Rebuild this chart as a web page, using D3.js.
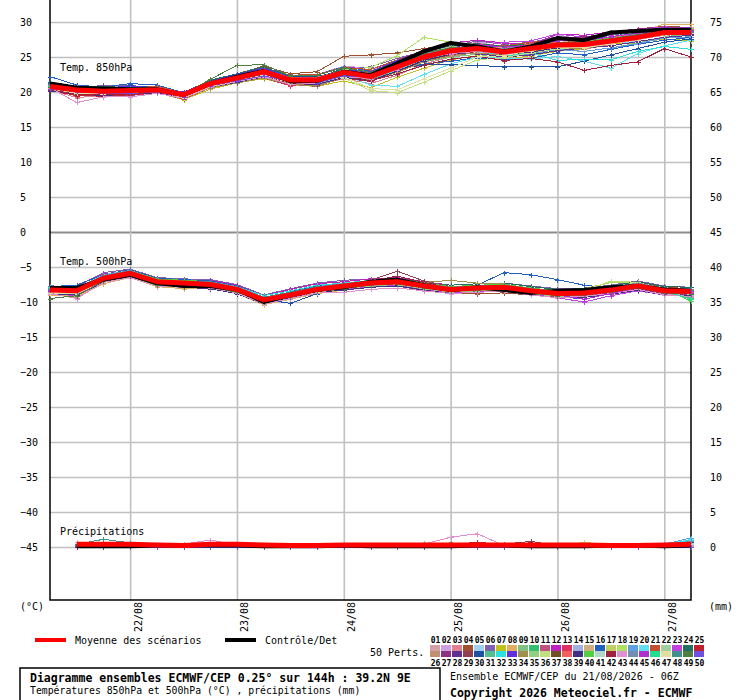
<!DOCTYPE html>
<html>
<head>
<meta charset="utf-8">
<script src="https://cdn.jsdelivr.net/npm/d3@7"></script>
<style>
  body { margin: 0; background: #fff; }
  svg text { font-family: "DejaVu Sans Mono", monospace; fill: #000; }
</style>
</head>
<body>
<svg id="chart" width="740" height="700"></svg>
<script>
// run start 21/08/2026 06Z, one value every 6 h
const hours = [0,6,12,18,24,30,36,42,48,54,60,66,72,78,84,90,96,102,108,114,120,126,132,138,144];
const dayTicks = ["2026-08-22","2026-08-23","2026-08-24","2026-08-25","2026-08-26","2026-08-27"];
const leftTicks = [30,25,20,15,10,5,0,-5,-10,-15,-20,-25,-30,-35,-40,-45];
const rightTicks = [75,70,65,60,55,50,45,40,35,30,25,20,15,10,5,0];

const memberIds = ["01","02","03","04","05","06","07","08","09","10","11","12","13","14","15","16","17","18","19","20","21","22","23","24","25",
  "26","27","28","29","30","31","32","33","34","35","36","37","38","39","40","41","42","43","44","45","46","47","48","49","50"];
const memberColors = ["#d4a0a8","#d0a0e0","#e08090","#a05030","#a0d0f0","#8060b0","#c0c020","#e0b060","#80c080","#30c070",
  "#c05080","#c020c0","#e03060","#a0b0e0","#d0b080","#2060c0","#c0d060","#b0e060","#60a0e0","#60e0f0",
  "#c05030","#a0d0a0","#c040e0","#207060","#c02030",
  "#c09070","#903080","#603090","#904050","#2050a0","#50c090","#30e0e0","#6030e0","#a09050","#90d080",
  "#c0e080","#705020","#f06060","#403080","#50d040","#b0d8c8","#a02040","#e090d0","#7090b0","#b030d0",
  "#20e090","#e0e0a0","#409090","#508040","#7050e0"];

const t850Mean = [20.8,20.3,20.1,20.2,20.3,19.6,21.2,22.0,22.9,21.7,21.7,22.8,22.2,23.6,25.0,25.9,26.2,25.7,26.2,26.7,26.8,27.3,27.8,28.5,28.5];
const t850Control = [21.2,20.6,20.5,20.4,20.4,19.6,21.2,22.2,23.0,21.5,21.6,22.9,22.4,24.1,25.8,27.0,26.5,25.8,26.5,27.7,27.4,28.5,28.7,28.9,28.9];
const t850Members = [
  [21.1,19.9,20.6,19.9,20.5,19.4,20.8,21.7,22.3,21.9,21.3,22.5,23.0,24.5,25.6,26.4,27.1,26.4,27.1,27.3,27.5,27.9,28.3,28.9,29.0],
  [20.6,20.5,20.9,20.6,20.1,19.8,21.7,22.6,23.2,22.2,22.5,23.7,23.4,23.4,24.4,25.4,27.0,27.1,26.5,28.2,27.4,27.8,28.5,28.9,28.7],
  [20.3,19.2,19.5,19.8,20.0,19.2,20.7,21.5,22.1,21.1,21.0,21.9,21.2,22.4,24.0,25.0,25.8,25.1,25.9,26.4,26.1,26.8,27.5,28.1,28.3],
  [20.9,20.5,20.4,20.6,20.8,19.8,21.6,22.6,23.7,22.6,22.9,25.1,25.3,25.6,26.2,26.8,26.4,26.1,27.0,27.3,27.8,28.3,29.0,29.4,29.2],
  [20.5,19.7,19.9,20.8,20.3,19.1,21.0,21.7,22.8,21.3,22.0,23.0,21.9,24.0,25.3,26.3,25.7,25.3,25.6,26.1,26.9,27.0,27.2,27.8,27.6],
  [21.4,20.4,21.0,20.9,20.7,19.9,21.7,22.4,23.1,22.3,21.8,23.2,23.6,24.8,25.8,26.5,27.3,26.8,27.1,27.9,27.4,28.1,28.7,29.2,28.9],
  [20.1,20.0,19.3,19.9,19.9,18.9,20.4,21.3,21.9,21.0,20.8,21.6,20.6,22.1,23.4,24.6,25.2,24.6,25.2,25.8,26.2,26.9,27.0,27.6,27.3],
  [20.8,20.1,20.2,20.1,20.6,19.6,21.4,22.1,23.3,22.0,21.4,22.4,22.2,24.0,25.5,26.1,26.4,25.2,26.0,27.1,27.3,27.9,28.5,29.7,29.7],
  [20.5,19.6,19.9,19.7,20.2,19.3,20.8,21.5,22.6,21.2,21.5,22.2,21.6,22.8,24.3,25.0,25.4,24.7,25.6,26.0,25.8,26.3,27.0,27.9,28.3],
  [21.2,20.6,20.5,20.2,20.6,19.7,21.4,22.3,23.2,22.1,22.0,23.3,22.9,24.3,25.6,26.8,26.7,26.5,26.8,27.0,27.5,28.2,28.8,29.0,28.9],
  [20.4,19.9,19.6,19.9,20.0,19.1,20.9,21.6,22.2,21.1,20.8,22.1,21.6,23.2,24.7,25.8,26.0,25.6,26.4,26.5,26.8,27.3,27.9,28.3,28.6],
  [21.0,20.4,20.7,20.7,20.5,19.6,21.6,22.4,23.5,22.3,22.4,23.6,23.2,24.5,26.0,27.0,27.4,27.0,26.7,28.3,28.1,28.6,29.0,29.3,29.1],
  [20.6,19.4,19.7,19.5,19.9,19.0,20.6,21.4,22.0,20.9,21.4,22.3,22.1,23.4,24.9,25.6,26.1,25.9,26.0,26.6,26.6,27.2,27.6,28.4,28.9],
  [21.3,20.6,20.3,20.5,20.7,19.9,21.6,22.4,23.0,21.9,22.1,22.7,22.5,23.7,25.1,25.8,26.5,25.5,26.3,26.8,26.5,27.0,27.7,28.2,28.1],
  [20.6,20.2,20.3,20.1,20.3,19.4,21.1,21.9,22.5,21.5,21.6,22.8,22.4,24.1,25.7,26.5,26.9,26.3,26.5,27.1,27.3,27.6,28.4,28.9,29.3],
  [22.2,21.0,20.7,21.2,21.0,19.9,21.7,22.6,23.5,22.4,22.5,23.6,23.0,23.3,24.0,24.4,24.9,24.6,24.8,25.6,25.3,26.1,26.8,27.4,27.8],
  [20.8,20.2,20.0,20.3,20.2,19.6,21.2,22.0,22.8,21.7,21.8,22.9,22.2,23.5,25.3,26.1,26.3,25.0,26.2,26.9,26.6,27.4,28.1,28.7,28.2],
  [21.1,20.5,20.6,20.5,20.6,19.8,21.4,22.3,23.3,22.0,21.8,23.2,23.5,25.2,27.8,27.1,26.6,25.9,26.9,27.3,27.6,28.3,28.7,29.0,28.6],
  [20.4,19.8,19.8,19.6,20.1,19.3,20.8,21.5,22.3,21.3,21.1,22.2,21.8,22.9,24.5,25.2,25.6,25.2,25.4,26.1,25.8,26.3,26.9,27.7,27.9],
  [20.5,19.9,19.7,20.0,20.2,19.3,21.0,21.7,22.4,21.2,21.4,22.4,21.0,20.8,22.5,24.0,25.0,24.8,24.7,25.1,24.4,23.4,25.5,26.6,27.4],
  [21.1,20.6,20.3,20.7,20.8,19.9,21.5,22.4,23.2,22.4,22.5,23.5,23.2,24.6,25.6,26.4,26.9,26.6,27.1,27.5,27.7,28.4,28.9,29.1,29.2],
  [20.7,20.3,20.1,20.0,20.3,19.5,21.0,21.9,22.7,21.6,21.7,22.6,22.3,23.6,25.0,25.9,26.0,25.3,25.9,26.6,27.0,27.6,28.2,28.6,28.3],
  [20.9,20.3,20.2,20.2,20.4,19.6,21.2,22.1,22.9,21.8,21.8,22.8,22.6,24.0,25.4,26.3,26.5,27.1,27.3,28.3,27.8,28.2,28.9,29.3,29.2],
  [21.3,20.4,20.8,20.6,20.5,19.7,21.7,22.6,23.6,22.2,22.0,23.4,22.8,24.3,25.8,26.6,26.9,26.5,26.9,27.4,27.1,27.8,28.4,28.8,28.9],
  [20.2,19.5,19.4,19.6,19.9,19.1,20.6,21.3,22.1,21.1,21.0,22.0,21.5,22.9,24.5,25.3,25.8,25.6,26.2,26.8,26.7,27.5,28.3,28.8,29.0],
  [20.7,20.1,19.9,20.3,20.2,19.4,21.1,22.0,22.8,21.7,21.8,22.7,22.1,23.4,24.9,25.7,26.1,25.6,26.0,26.5,26.9,27.2,27.7,28.4,28.7],
  [21.0,20.4,20.4,20.4,20.4,19.8,21.4,22.3,23.1,21.9,22.1,23.1,22.7,24.2,25.6,26.5,26.7,26.0,26.8,27.6,27.9,28.3,28.8,29.1,28.7],
  [20.5,19.9,19.8,19.8,20.1,19.3,20.8,21.6,22.4,21.4,21.3,22.3,21.9,23.2,24.7,25.5,25.5,25.0,25.3,25.9,26.3,26.6,27.2,27.8,28.1],
  [20.8,20.5,20.2,20.1,20.3,19.7,21.3,22.0,22.7,21.8,21.5,22.7,22.3,23.8,25.3,25.8,26.2,25.8,26.4,26.9,27.2,27.4,28.0,28.6,28.8],
  [21.4,20.8,20.5,20.9,20.6,19.8,21.6,22.5,23.2,22.2,22.2,23.1,22.5,23.2,23.9,23.9,23.8,23.6,23.6,23.6,24.4,25.3,26.2,27.1,27.6],
  [20.7,20.0,20.1,20.0,20.3,19.5,20.9,21.8,22.6,21.5,21.7,22.6,22.3,23.7,25.1,25.9,26.2,26.0,26.5,26.8,27.0,27.6,28.1,28.6,28.9],
  [20.3,19.8,19.5,19.8,19.9,19.2,20.7,21.4,22.2,21.2,21.2,22.3,21.9,23.1,24.6,25.4,25.9,25.1,25.6,24.5,24.7,24.6,25.8,26.5,26.1],
  [21.2,20.5,20.6,20.8,20.6,20.0,21.5,22.5,23.4,22.1,21.9,23.1,22.9,24.5,25.7,26.5,26.7,26.4,26.6,27.6,27.4,27.9,28.6,29.0,29.1],
  [20.4,19.7,19.6,19.7,19.9,19.1,20.6,21.3,22.0,21.1,20.9,22.1,21.8,22.8,24.3,25.2,25.6,25.2,25.8,26.3,26.2,26.9,27.6,28.3,28.5],
  [21.0,20.4,20.4,20.4,20.5,19.7,21.3,22.2,23.0,21.9,22.0,22.9,22.5,24.0,25.5,26.5,26.2,25.9,26.6,26.9,27.3,27.9,28.5,28.9,29.1],
  [20.8,20.1,20.0,20.2,20.2,19.6,21.0,21.9,22.6,21.7,21.7,22.0,20.2,19.9,21.4,23.0,24.6,24.9,25.6,26.2,26.4,27.0,27.6,28.3,28.4],
  [20.6,20.0,19.8,20.0,20.2,19.3,21.0,21.7,22.5,21.4,21.5,22.4,22.0,23.3,24.7,25.6,26.0,25.3,25.9,26.4,26.7,27.1,27.6,28.2,28.4],
  [21.1,20.7,20.5,20.5,20.7,19.9,21.5,22.2,23.1,22.1,22.1,23.1,22.7,24.1,25.4,26.3,26.6,26.2,26.9,27.1,27.2,27.8,28.3,28.8,29.0],
  [20.2,19.7,19.5,19.7,19.9,19.2,20.7,21.4,22.2,21.2,21.1,22.1,21.6,23.0,24.5,25.4,25.9,25.4,25.7,26.3,26.3,27.0,27.6,28.2,28.3],
  [20.9,20.4,20.3,20.4,20.4,19.5,21.3,22.0,22.8,21.9,21.9,22.7,22.5,23.9,25.3,26.2,26.6,26.1,26.4,27.0,27.2,27.7,28.2,28.6,28.7],
  [20.9,20.3,20.0,20.2,20.3,19.6,21.1,22.0,23.0,21.5,21.7,22.8,22.2,23.5,24.9,25.8,26.1,25.7,26.2,26.7,26.9,27.3,27.9,28.5,28.6],
  [20.3,19.7,19.6,19.7,20.0,19.3,20.7,21.5,22.3,21.2,21.3,22.3,21.6,22.6,23.8,24.7,25.1,24.5,24.8,24.3,23.1,23.8,24.3,26.2,25.0],
  [20.6,18.5,19.3,19.3,19.8,19.1,20.7,21.5,22.2,21.1,21.3,22.2,21.9,23.2,24.8,25.5,25.8,25.4,25.9,26.5,26.4,27.0,27.5,28.1,28.4],
  [21.0,20.5,20.4,20.3,20.5,19.8,21.4,22.2,23.1,21.8,22.0,23.1,22.6,24.1,25.5,26.3,26.4,26.2,26.7,27.0,27.1,27.6,28.3,28.7,28.8],
  [20.7,20.0,20.0,19.9,20.2,19.4,20.9,21.8,22.6,21.4,21.6,22.6,22.2,23.6,25.0,25.9,26.8,26.4,26.7,27.3,27.3,27.9,28.4,28.9,28.9],
  [20.9,20.4,20.2,20.3,20.5,19.7,21.3,22.1,23.0,21.8,21.8,22.8,22.4,23.7,25.2,26.1,26.2,25.9,26.3,26.8,26.8,27.4,28.0,28.6,28.7],
  [20.5,19.8,19.7,19.9,20.1,19.2,20.8,21.6,22.4,21.3,21.4,22.2,20.5,20.3,21.9,23.4,25.0,25.2,25.9,26.4,26.3,26.9,27.5,28.2,28.5],
  [21.1,20.5,20.5,20.6,20.6,19.8,21.5,22.3,23.1,22.0,22.0,23.0,22.5,24.0,25.4,26.0,26.4,26.0,26.5,26.9,27.0,27.6,28.1,28.5,28.6],
  [20.7,20.3,20.3,20.4,20.4,19.7,21.8,23.8,23.9,22.3,22.4,23.5,22.8,24.2,25.6,26.3,26.5,26.0,26.4,27.0,27.1,27.6,28.2,28.7,28.8],
  [20.4,20.1,19.8,19.8,20.0,19.3,20.9,21.6,22.3,21.5,21.3,22.3,22.1,23.6,25.0,25.7,26.4,25.8,26.3,27.0,26.8,27.5,28.0,28.6,28.7]
];

const t500Mean = [-8.3,-8.4,-6.6,-5.9,-7.1,-7.3,-7.5,-8.2,-9.7,-9.0,-8.2,-7.7,-7.3,-7.1,-7.7,-8.2,-8.0,-7.9,-8.4,-8.8,-8.7,-8.3,-7.7,-8.4,-8.5];
const t500Control = [-8.0,-8.0,-6.8,-6.1,-7.3,-7.7,-7.7,-8.2,-10.0,-9.0,-8.3,-7.9,-7.1,-6.8,-7.6,-8.3,-7.9,-8.3,-8.7,-8.4,-8.3,-7.9,-7.7,-8.2,-8.4];
const t500Members = [
  [-8.0,-8.1,-6.3,-5.6,-6.8,-7.0,-7.2,-7.8,-9.3,-8.6,-7.8,-7.4,-7.0,-6.8,-7.4,-7.8,-7.7,-7.6,-8.0,-8.4,-8.3,-7.9,-7.4,-8.0,-8.1],
  [-8.8,-8.9,-7.1,-6.3,-7.6,-7.8,-7.9,-8.7,-10.2,-9.5,-8.7,-8.2,-7.8,-7.6,-8.2,-8.7,-8.5,-8.4,-8.9,-9.3,-9.2,-8.8,-8.2,-8.9,-9.0],
  [-8.6,-9.4,-7.0,-6.1,-7.4,-7.6,-7.2,-8.1,-9.6,-8.9,-7.8,-7.4,-7.0,-7.4,-8.0,-8.5,-8.3,-8.2,-8.7,-9.1,-9.0,-8.6,-8.0,-8.7,-9.3],
  [-8.0,-8.1,-6.1,-5.5,-6.6,-6.8,-6.9,-7.7,-9.1,-8.4,-8.0,-7.7,-7.6,-7.7,-8.4,-8.8,-8.8,-8.7,-9.0,-9.3,-8.6,-8.1,-7.3,-7.8,-8.2],
  [-8.9,-9.0,-7.2,-6.3,-7.7,-7.9,-7.9,-8.4,-9.9,-9.3,-8.4,-7.9,-7.3,-7.0,-7.6,-8.1,-7.9,-7.8,-8.2,-8.6,-8.9,-8.5,-7.7,-8.6,-8.7],
  [-7.7,-7.8,-5.8,-5.3,-6.5,-6.7,-6.8,-7.5,-9.0,-8.1,-7.3,-6.9,-6.7,-6.6,-7.1,-7.6,-7.4,-7.3,-7.7,-8.1,-8.0,-7.6,-7.0,-7.7,-7.9],
  [-8.3,-8.6,-6.6,-5.9,-7.1,-7.3,-7.5,-8.2,-9.7,-9.0,-8.2,-7.5,-7.1,-6.9,-7.3,-8.0,-7.6,-7.5,-8.2,-8.5,-8.1,-7.2,-7.2,-8.2,-8.3],
  [-9.0,-9.2,-7.4,-6.5,-7.8,-8.1,-8.1,-8.8,-10.4,-9.6,-8.8,-8.3,-7.9,-7.7,-8.3,-8.8,-8.6,-8.5,-9.0,-9.4,-9.3,-8.9,-8.3,-9.0,-9.1],
  [-8.1,-8.2,-6.4,-5.7,-6.9,-7.1,-7.1,-8.0,-9.5,-8.8,-8.0,-7.7,-7.3,-7.1,-7.7,-8.2,-8.0,-7.9,-8.4,-8.6,-8.5,-8.1,-7.5,-8.2,-8.5],
  [-8.5,-8.6,-6.8,-6.1,-7.3,-7.5,-7.7,-8.4,-9.9,-9.2,-8.4,-7.9,-7.5,-7.3,-7.9,-8.4,-8.2,-8.1,-8.6,-9.0,-8.9,-8.5,-7.9,-8.4,-8.7],
  [-8.3,-8.4,-6.6,-5.9,-7.1,-7.3,-7.3,-8.2,-9.5,-8.8,-8.2,-7.7,-7.1,-6.9,-7.5,-8.0,-7.8,-7.7,-8.2,-8.9,-8.7,-8.3,-7.7,-8.4,-8.5],
  [-7.9,-7.6,-6.0,-5.5,-6.7,-6.9,-6.9,-7.6,-9.1,-8.2,-7.4,-7.1,-6.7,-6.5,-7.1,-7.6,-7.4,-7.3,-7.8,-8.2,-8.1,-7.7,-7.1,-7.8,-7.9],
  [-8.7,-8.8,-7.0,-6.1,-7.5,-7.7,-7.7,-8.4,-10.0,-9.3,-8.4,-8.1,-7.7,-7.5,-8.1,-8.6,-8.4,-8.3,-8.8,-9.2,-9.1,-8.7,-8.1,-8.8,-8.9],
  [-8.1,-8.0,-6.2,-5.7,-6.9,-7.1,-7.1,-7.8,-9.3,-8.6,-7.8,-7.5,-7.1,-6.9,-7.5,-8.0,-7.8,-7.7,-8.2,-8.6,-8.5,-8.1,-7.5,-8.2,-8.3],
  [-8.4,-8.4,-6.6,-5.9,-7.1,-7.3,-7.5,-8.2,-9.7,-9.0,-8.2,-7.7,-7.3,-7.1,-7.7,-8.2,-8.0,-7.9,-8.4,-8.8,-8.7,-8.3,-7.7,-8.4,-8.5],
  [-7.8,-7.6,-6.1,-5.4,-6.6,-6.8,-7.0,-7.7,-9.1,-8.4,-7.7,-7.3,-6.9,-6.9,-7.4,-8.0,-7.6,-5.8,-6.1,-6.8,-7.6,-8.0,-7.4,-8.1,-8.2],
  [-8.9,-9.0,-7.2,-6.3,-7.7,-7.9,-7.9,-8.6,-10.1,-9.4,-8.6,-8.1,-7.5,-7.3,-7.9,-8.4,-8.2,-8.1,-8.6,-9.0,-8.2,-7.2,-7.2,-8.2,-8.7],
  [-8.2,-8.2,-6.4,-5.7,-6.9,-7.1,-7.3,-8.0,-9.5,-8.8,-8.0,-7.5,-7.1,-6.9,-7.5,-8.0,-7.8,-7.7,-8.2,-8.6,-8.3,-7.1,-7.4,-8.1,-8.3],
  [-8.7,-8.8,-6.8,-6.1,-7.5,-7.7,-7.7,-8.4,-9.9,-9.2,-8.4,-7.9,-7.5,-7.3,-7.9,-8.4,-8.2,-8.2,-8.7,-9.1,-9.0,-8.6,-8.0,-8.7,-8.8],
  [-8.0,-8.1,-6.1,-5.5,-6.7,-6.9,-7.1,-7.8,-9.3,-8.6,-7.8,-7.3,-6.9,-6.7,-7.3,-7.8,-7.6,-7.5,-8.0,-8.4,-8.3,-7.9,-7.3,-8.0,-8.1],
  [-8.5,-8.6,-6.8,-6.1,-7.3,-7.5,-7.6,-8.4,-9.9,-9.0,-8.4,-7.9,-7.5,-7.3,-7.9,-8.4,-8.2,-8.1,-8.6,-8.8,-8.7,-8.3,-7.7,-8.4,-8.7],
  [-8.3,-8.4,-6.6,-5.9,-7.1,-7.3,-7.5,-8.2,-9.7,-9.0,-8.2,-7.7,-7.3,-7.1,-7.7,-8.2,-8.0,-7.9,-8.4,-8.8,-8.7,-8.3,-7.7,-8.4,-8.5],
  [-8.8,-9.1,-7.1,-6.4,-7.6,-7.8,-8.0,-8.6,-10.3,-9.5,-8.7,-8.2,-7.8,-7.6,-8.2,-8.7,-8.5,-8.4,-8.9,-9.4,-10.0,-9.1,-8.4,-9.0,-9.2],
  [-8.1,-8.0,-6.2,-5.6,-6.7,-6.9,-7.1,-7.8,-9.1,-8.4,-7.6,-7.3,-6.9,-6.7,-7.2,-7.6,-7.4,-7.3,-7.8,-8.2,-8.1,-7.7,-7.1,-7.8,-7.9],
  [-8.5,-8.6,-6.8,-5.9,-7.3,-7.5,-7.5,-8.4,-9.7,-9.0,-8.2,-7.9,-7.5,-7.1,-7.7,-8.2,-8.0,-7.9,-8.6,-8.8,-8.7,-8.3,-7.7,-8.4,-8.5],
  [-8.3,-8.2,-6.4,-5.7,-6.9,-7.1,-7.3,-8.0,-9.5,-8.8,-8.0,-7.5,-7.1,-6.9,-7.5,-8.0,-7.8,-7.7,-8.2,-8.6,-8.5,-8.1,-7.5,-8.2,-8.3],
  [-8.7,-8.8,-7.0,-6.1,-7.5,-7.7,-7.9,-8.4,-9.9,-9.2,-8.4,-8.1,-7.7,-7.5,-8.1,-8.6,-8.4,-8.3,-8.8,-9.2,-9.1,-8.7,-8.1,-8.8,-8.9],
  [-8.1,-8.2,-6.2,-5.5,-6.7,-6.9,-7.1,-7.8,-9.3,-8.6,-7.8,-7.5,-7.1,-6.9,-7.5,-7.8,-7.6,-7.5,-8.0,-8.4,-8.3,-7.9,-7.3,-8.0,-8.1],
  [-8.5,-8.6,-6.6,-5.9,-7.1,-7.3,-7.5,-8.2,-9.7,-9.0,-8.2,-7.7,-6.9,-5.6,-7.0,-7.8,-7.9,-7.8,-8.3,-8.7,-8.6,-8.2,-7.6,-8.3,-8.5],
  [-8.3,-8.4,-6.6,-5.9,-7.1,-7.3,-7.4,-8.2,-9.6,-10.2,-8.8,-8.0,-7.4,-7.2,-7.8,-8.4,-8.2,-8.1,-8.6,-9.0,-8.9,-8.5,-7.9,-8.6,-8.7],
  [-8.7,-8.8,-7.0,-6.1,-7.5,-7.7,-7.7,-8.6,-10.1,-9.2,-8.4,-7.9,-7.5,-7.3,-7.9,-8.4,-8.2,-8.1,-8.6,-9.0,-8.9,-8.5,-7.9,-8.6,-9.4],
  [-7.9,-8.0,-6.2,-5.5,-6.7,-6.9,-7.1,-7.8,-9.1,-8.4,-7.6,-7.3,-6.9,-6.7,-7.3,-7.8,-7.6,-7.5,-8.0,-8.4,-8.3,-7.9,-7.3,-8.0,-8.1],
  [-8.5,-8.6,-6.8,-6.1,-7.3,-7.5,-7.7,-8.4,-9.9,-9.0,-8.4,-7.9,-7.5,-7.3,-7.9,-8.4,-8.2,-8.1,-8.8,-9.2,-9.6,-8.8,-7.9,-8.6,-8.7],
  [-8.3,-8.4,-6.4,-5.7,-7.1,-7.3,-7.3,-8.0,-9.5,-8.8,-8.0,-7.7,-7.1,-6.9,-7.2,-6.9,-7.3,-7.4,-8.2,-8.7,-8.6,-8.2,-7.6,-8.3,-8.5],
  [-8.7,-8.8,-7.0,-6.3,-7.5,-7.7,-7.9,-8.6,-10.1,-9.4,-8.6,-8.1,-7.7,-7.5,-8.1,-8.6,-8.4,-8.3,-8.8,-9.2,-9.1,-8.5,-7.9,-8.6,-8.9],
  [-8.1,-8.2,-6.4,-5.7,-6.9,-7.1,-7.1,-8.0,-9.3,-8.6,-7.8,-7.5,-7.1,-6.9,-7.5,-8.0,-7.8,-7.7,-8.2,-8.6,-8.4,-7.0,-7.2,-8.1,-8.3],
  [-8.5,-8.4,-6.6,-6.0,-7.2,-7.5,-7.6,-8.3,-9.8,-9.1,-8.3,-7.8,-7.4,-7.2,-7.8,-8.3,-8.1,-8.0,-8.5,-8.9,-8.8,-8.4,-7.8,-8.5,-8.6],
  [-8.2,-8.5,-6.5,-5.8,-7.2,-7.2,-7.4,-8.1,-9.6,-8.9,-8.1,-7.8,-7.2,-7.0,-7.6,-8.1,-7.9,-7.8,-8.3,-8.7,-8.6,-8.2,-7.6,-8.3,-8.6],
  [-8.9,-9.0,-7.2,-6.3,-7.7,-7.9,-8.1,-8.8,-10.3,-9.4,-8.6,-8.3,-7.9,-7.7,-8.3,-8.8,-8.6,-8.5,-9.0,-9.4,-9.3,-8.9,-8.3,-9.0,-9.1],
  [-8.1,-8.2,-6.2,-5.5,-6.7,-6.9,-7.1,-7.8,-9.3,-8.6,-7.8,-7.5,-6.9,-6.7,-7.3,-7.8,-7.6,-7.5,-8.0,-8.4,-8.3,-7.9,-7.3,-8.0,-9.9],
  [-8.5,-8.6,-6.8,-6.1,-7.3,-7.5,-7.5,-8.4,-9.7,-9.0,-8.2,-7.7,-7.3,-7.1,-7.7,-8.2,-8.0,-7.9,-8.4,-8.8,-8.7,-8.3,-7.7,-8.4,-8.5],
  [-8.2,-8.2,-6.4,-5.7,-7.1,-7.3,-7.3,-8.0,-9.5,-8.8,-8.0,-7.5,-7.0,-6.3,-7.2,-8.0,-7.9,-7.8,-8.3,-8.7,-8.6,-8.2,-7.6,-8.3,-8.4],
  [-8.8,-9.5,-7.2,-6.5,-7.7,-7.9,-8.0,-8.7,-10.3,-9.5,-8.7,-8.6,-8.2,-8.0,-8.4,-8.8,-8.6,-8.5,-9.0,-9.4,-9.2,-8.8,-8.2,-9.0,-9.2],
  [-8.0,-8.0,-6.2,-5.5,-6.9,-7.1,-7.1,-7.8,-9.3,-8.6,-7.8,-7.4,-7.0,-6.8,-7.4,-7.9,-7.7,-7.6,-8.1,-8.5,-8.3,-7.9,-7.3,-8.0,-8.1],
  [-8.5,-8.6,-6.8,-6.0,-7.3,-7.5,-7.7,-8.4,-9.9,-9.2,-8.4,-7.9,-7.5,-7.3,-7.9,-8.4,-8.2,-8.1,-8.6,-9.0,-9.6,-8.8,-8.0,-8.6,-8.7],
  [-8.3,-8.4,-6.6,-5.9,-7.1,-7.3,-7.4,-8.2,-9.6,-8.9,-8.1,-7.7,-7.3,-7.1,-7.7,-8.2,-8.0,-7.9,-8.4,-8.8,-8.7,-8.3,-7.7,-8.4,-9.6],
  [-8.7,-8.8,-7.0,-6.1,-7.5,-7.7,-7.9,-8.6,-10.1,-9.2,-8.6,-8.1,-7.5,-7.3,-7.9,-8.4,-8.2,-8.1,-8.6,-9.0,-8.9,-8.5,-7.9,-8.6,-8.9],
  [-8.1,-8.2,-6.4,-5.7,-6.9,-7.1,-7.1,-8.0,-9.3,-8.6,-7.8,-7.5,-7.1,-6.9,-7.5,-8.0,-7.8,-7.7,-8.2,-8.6,-8.5,-8.1,-7.5,-8.2,-8.3],
  [-9.5,-9.1,-7.0,-6.3,-7.6,-7.8,-7.9,-8.6,-10.0,-9.3,-8.5,-8.1,-7.6,-7.4,-8.0,-8.5,-8.3,-8.2,-8.7,-9.1,-9.0,-8.6,-8.0,-8.7,-8.8],
  [-8.3,-8.4,-6.6,-5.9,-7.1,-7.3,-7.5,-8.2,-9.7,-9.0,-8.2,-7.7,-7.3,-7.1,-7.7,-8.2,-8.0,-7.9,-8.4,-8.8,-8.7,-8.3,-7.7,-8.4,-8.5]
];

// precipitation, 6 h totals from +6 h to +144 h (mm)
const precipMean = [0.4,0.4,0.4,0.3,0.2,0.4,0.4,0.3,0.2,0.2,0.3,0.3,0.3,0.3,0.3,0.3,0.3,0.3,0.3,0.3,0.2,0.2,0.3,0.4];
const precipControl = [0.1,0.1,0.1,0.2,0.2,0.2,0.2,0.1,0.1,0.1,0.2,0.1,0.1,0.1,0.1,0.2,0.2,0.1,0.1,0.1,0.2,0.2,0.1,0.2];
const precipMembers = [
  [.5,.3,.2,0,0,.2,0,0,0,0,0,0,0,0,0,0,0,0,0,0,0,0,0,0],
  [.7,.5,.3,.1,0,0,0,0,0,0,0,0,0,0,0,0,0,0,0,0,0,0,0,.1],
  [.3,.2,.1,0,0,.4,.1,0,0,0,0,0,0,0,0,0,0,0,0,0,0,0,0,0],
  [0,0,0,0,0,0,0,0,0,0,0,0,0,0,0,.2,.1,0,0,0,0,0,0,0],
  [.3,.2,0,0,0,0,0,0,0,0,0,0,0,0,0,0,0,0,0,0,0,0,.2,.6],
  [.2,.3,.1,0,0,.3,0,0,0,0,0,0,0,0,0,0,0,0,0,0,0,0,0,0],
  [.3,.4,.3,.1,0,0,0,0,0,0,0,0,0,0,.3,.1,0,0,0,0,0,0,0,0],
  [0,.1,0,0,0,.2,0,0,0,0,0,0,0,0,0,0,0,0,0,0,0,0,0,0],
  [.2,.2,0,0,0,0,0,0,0,0,0,0,0,.5,.2,0,0,0,0,0,0,0,0,0],
  [.2,.1,0,0,.1,.4,.2,0,0,0,0,0,0,0,0,0,0,0,0,0,0,0,0,0],
  [0,0,0,0,0,.3,0,0,0,0,0,0,0,0,0,.3,0,0,0,0,0,0,0,0],
  [0,0,0,0,0,0,0,0,0,0,0,0,0,0,0,0,0,.2,0,0,0,0,0,0],
  [.1,.1,0,0,0,.5,.2,0,0,0,0,0,0,0,0,0,0,0,0,0,0,0,0,0],
  [.3,.2,.1,0,0,0,0,0,0,0,0,0,0,0,0,0,0,0,0,0,0,0,0,.3],
  [0,0,0,0,0,.2,0,0,0,0,0,0,0,0,0,0,0,0,0,0,0,0,0,0],
  [.4,.2,.1,0,0,0,0,0,0,0,0,0,0,0,0,0,0,0,0,0,0,0,.3,.9],
  [.2,.3,0,0,0,0,0,0,0,0,0,0,0,0,.5,.2,0,0,0,.3,.1,0,0,0],
  [.2,.1,0,0,0,0,0,0,0,0,0,0,0,0,0,0,0,0,0,.7,.2,0,0,0],
  [.4,.3,.1,0,0,0,0,0,0,0,0,0,0,0,0,0,0,0,0,0,0,0,.4,1.3],
  [.1,0,0,0,0,0,0,0,0,0,0,0,0,0,0,0,0,0,0,0,0,0,.3,1.1],
  [0,0,0,0,0,.2,0,0,0,0,0,0,0,0,0,.4,.2,.3,0,0,0,0,0,0],
  [.2,.1,0,0,0,0,0,0,0,0,0,0,0,0,0,0,0,0,0,0,0,0,0,0],
  [.3,.4,.2,0,0,.2,0,0,0,0,0,0,0,0,0,0,0,0,0,0,0,0,0,0],
  [.3,.5,.2,0,0,0,0,0,0,0,0,0,0,0,0,0,0,0,0,0,0,0,0,0],
  [0,0,0,0,0,0,0,0,0,0,0,0,0,0,.3,.7,.3,0,0,0,0,0,0,0],
  [.3,.2,0,0,0,.3,0,0,0,0,0,0,0,0,0,0,0,0,0,0,0,0,0,0],
  [0,0,0,0,0,0,0,0,0,0,0,0,0,0,0,0,.2,.5,.1,0,0,0,0,0],
  [.2,.1,0,0,0,0,0,0,0,0,0,0,0,0,0,0,0,0,0,0,0,0,0,0],
  [0,0,0,0,0,0,0,0,0,0,0,0,0,0,0,.2,.4,.8,.2,0,0,0,0,0],
  [.3,.2,.1,0,0,0,0,0,0,0,0,0,0,0,0,0,0,0,0,0,0,0,.2,.7],
  [.2,.3,.1,0,.2,.6,.2,0,0,0,0,0,0,0,0,0,0,0,0,0,0,0,0,0],
  [.2,.2,0,0,0,0,0,0,0,0,0,0,0,0,0,0,0,0,0,0,0,0,.3,1.0],
  [0,0,0,0,0,.2,0,0,0,0,0,0,0,0,0,0,0,0,0,0,0,0,0,0],
  [.3,.3,.1,0,0,0,0,0,0,0,0,0,0,0,.6,.2,0,0,0,0,0,0,0,0],
  [.3,.4,.2,0,0,.3,0,0,0,0,0,0,0,.6,.2,0,0,0,0,0,0,0,0,0],
  [.2,.1,0,0,0,0,0,0,0,0,0,0,0,0,0,0,0,0,0,.5,.2,0,0,0],
  [0,0,0,0,0,0,0,0,0,0,0,0,0,0,0,0,0,0,0,0,0,0,0,0],
  [.2,.2,0,0,0,.4,.1,0,0,0,0,0,0,0,0,.3,0,0,0,0,0,0,0,0],
  [0,0,0,0,0,.2,0,0,0,0,0,0,0,0,0,0,0,0,0,0,0,0,0,0],
  [.3,.3,.1,0,0,.2,0,0,0,0,0,0,0,.3,0,0,0,0,0,0,0,0,0,0],
  [.2,.2,0,0,0,0,0,0,0,0,0,0,0,0,0,0,0,0,0,0,0,0,.2,.5],
  [0,0,0,0,0,.2,0,0,0,0,0,0,0,0,0,0,.3,.6,.2,0,0,0,0,0],
  [.3,.2,0,0,.4,1.0,.3,0,0,0,0,0,.1,.4,1.4,1.9,.2,0,0,0,0,0,0,0],
  [.3,.2,.1,0,0,0,0,0,0,0,0,0,0,0,0,0,0,0,0,0,0,0,.3,.8],
  [.2,.1,0,0,0,.3,0,0,0,0,0,0,0,0,0,0,0,0,0,0,0,0,0,0],
  [.2,.3,.1,0,0,0,0,0,0,0,0,0,0,0,0,0,0,0,0,0,0,0,0,0],
  [.3,.2,0,0,0,0,0,0,0,0,0,0,0,0,0,0,0,0,0,.4,.1,0,0,0],
  [.4,1.1,.6,.3,0,0,0,0,0,0,0,0,0,0,0,0,0,0,0,0,0,0,0,0],
  [.3,.3,.1,0,0,.4,0,0,0,0,0,0,0,0,0,0,0,0,0,0,0,0,0,0],
  [.2,.2,0,0,0,0,0,0,0,0,0,0,0,0,0,0,0,0,0,0,0,0,0,0]
];

const svg = d3.select("#chart");
const width = 740;
const plot = { left: 50, right: 691, top: 0, bottom: 600 };

const runStart = Date.UTC(2026, 7, 21, 6);
const timeOf = h => new Date(runStart + h * 3600 * 1000);

const x = d3.scaleUtc()
  .domain([timeOf(hours[0]), timeOf(hours[hours.length - 1])])
  .range([plot.left, plot.right]);

// left axis in °C, right axis = left + 45 (precip in mm shares it)
const yT = d3.scaleLinear().domain([-45, 30]).range([547, 22]);
const yR = d3.scaleLinear().domain([0, 75]).range([547, 22]);

const days = dayTicks.map(d => new Date(d + "T00:00:00Z"));

svg.append("rect").attr("width", width).attr("height", 700).attr("fill", "#fff");

// horizontal grid
const hGrid = svg.append("g")
  .attr("transform", `translate(${plot.left},0)`)
  .call(d3.axisLeft(yT).tickValues(leftTicks).tickSize(-(plot.right - plot.left)).tickFormat(""));
hGrid.select(".domain").remove();
hGrid.selectAll("line")
  .attr("stroke", d => d === 0 ? "#8c8c8c" : "#c0c0c0")
  .attr("stroke-width", d => d === 0 ? 2.2 : 1.6);

// vertical grid (days)
const vGrid = svg.append("g")
  .attr("transform", `translate(0,${plot.bottom})`)
  .call(d3.axisBottom(x).tickValues(days).tickSize(-plot.bottom).tickFormat(""));
vGrid.select(".domain").remove();
vGrid.selectAll("line").attr("stroke", "#c0c0c0").attr("stroke-width", 1.6);

// frame
svg.append("path")
  .attr("d", `M${plot.left},0V${plot.bottom}H${plot.right}V0`)
  .attr("fill", "none")
  .attr("stroke", "#000")
  .attr("stroke-width", 1.5);

// tick labels
const leftAxis = svg.append("g")
  .attr("transform", "translate(20,0)")
  .call(d3.axisLeft(yT).tickValues(leftTicks).tickSize(0).tickPadding(0));
leftAxis.select(".domain").remove();
leftAxis.selectAll("text")
  .attr("text-anchor", "start")
  .attr("x", 0)
  .attr("font-family", "DejaVu Sans Mono")
  .attr("font-size", 10);

const rightAxis = svg.append("g")
  .attr("transform", "translate(710,0)")
  .call(d3.axisRight(yR).tickValues(rightTicks).tickSize(0).tickPadding(0));
rightAxis.select(".domain").remove();
rightAxis.selectAll("text")
  .attr("x", 0)
  .attr("font-family", "DejaVu Sans Mono")
  .attr("font-size", 10);

const dateAxis = svg.append("g")
  .attr("transform", `translate(0,${plot.bottom})`)
  .call(d3.axisBottom(x).tickValues(days).tickSize(0).tickFormat(d3.utcFormat("%d/%m")));
dateAxis.select(".domain").remove();
dateAxis.selectAll("text")
  .attr("x", 0).attr("y", 0).attr("dy", 0)
  .attr("text-anchor", "end")
  .attr("transform", "translate(11,2) rotate(-90)")
  .attr("font-family", "DejaVu Sans Mono")
  .attr("font-size", 10);

svg.append("text").attr("x", 20).attr("y", 610).attr("font-size", 10).text("(°C)");
svg.append("text").attr("x", 709).attr("y", 610).attr("font-size", 10).text("(mm)");

// panel labels
svg.append("text").attr("x", 60).attr("y", 71).attr("font-size", 10).text("Temp. 850hPa");
svg.append("text").attr("x", 60).attr("y", 265).attr("font-size", 10).text("Temp. 500hPa");
svg.append("text").attr("x", 60).attr("y", 535).attr("font-size", 10).text("Précipitations");

// series
const lineT = d3.line().x((d, i) => x(timeOf(hours[i]))).y(d => yT(d));
const lineP = d3.line().x((d, i) => x(timeOf(hours[i + 1]))).y(d => yR(d));

function drawMembers(members, line, offset, scale) {
  const g = svg.append("g").attr("shape-rendering", "crispEdges");
  members.forEach((vals, m) => {
    const col = memberColors[m];
    g.append("path")
      .attr("d", line(vals))
      .attr("fill", "none")
      .attr("stroke", col)
      .attr("stroke-width", 1);
    g.selectAll(null)
      .data(vals)
      .enter()
      .append("path")
      .attr("transform", (d, i) => `translate(${Math.round(x(timeOf(hours[i + offset])))},${Math.round(scale(d))})`)
      .attr("d", "M-2,0.5H3M0.5,-2V3")
      .attr("stroke", col)
      .attr("stroke-width", 1);
  });
}

function drawMain(vals, line, color, w) {
  svg.append("path")
    .attr("d", line(vals))
    .attr("fill", "none")
    .attr("stroke", color)
    .attr("stroke-width", w)
    .attr("stroke-linejoin", "round");
}

drawMembers(t850Members, lineT, 0, yT);
drawMembers(t500Members, lineT, 0, yT);
drawMembers(precipMembers, lineP, 1, yR);

drawMain(t850Control, lineT, "#000", 4);
drawMain(t500Control, lineT, "#000", 4);
drawMain(precipControl, lineP, "#000", 4);
drawMain(t850Mean, lineT, "#ff0000", 5);
drawMain(t500Mean, lineT, "#ff0000", 5);
drawMain(precipMean, lineP, "#ff0000", 5);

// legend
svg.append("line").attr("x1", 35).attr("x2", 66).attr("y1", 640).attr("y2", 640)
  .attr("stroke", "#ff0000").attr("stroke-width", 4);
svg.append("text").attr("x", 75).attr("y", 644).attr("font-size", 10).text("Moyenne des scénarios");
svg.append("line").attr("x1", 225).attr("x2", 256).attr("y1", 640).attr("y2", 640)
  .attr("stroke", "#000").attr("stroke-width", 4);
svg.append("text").attr("x", 265).attr("y", 644).attr("font-size", 10).text("Contrôle/Det");

svg.append("text").attr("x", 370).attr("y", 656).attr("font-size", 10).text("50 Perts.");

const col = d3.scaleBand().domain(d3.range(25)).range([430, 705]).padding(0);
const key = svg.append("g");
memberIds.forEach((id, m) => {
  const c = m % 25;
  const row = Math.floor(m / 25);
  key.append("rect")
    .attr("x", col(c))
    .attr("y", 645 + row * 6)
    .attr("width", col.bandwidth() - 1)
    .attr("height", 6)
    .attr("fill", memberColors[m]);
  key.append("text")
    .attr("x", col(c) + col.bandwidth() / 2)
    .attr("y", row === 0 ? 643 : 666)
    .attr("text-anchor", "middle")
    .attr("font-size", 8)
    .attr("font-weight", "bold")
    .text(id);
});

// title box
svg.append("rect")
  .attr("x", 20).attr("y", 668).attr("width", 420).attr("height", 40)
  .attr("fill", "none").attr("stroke", "#000").attr("stroke-width", 1.5);
svg.append("text").attr("x", 30).attr("y", 682)
  .attr("font-size", 11.5).attr("font-weight", "bold")
  .text("Diagramme ensembles ECMWF/CEP 0.25° sur 144h : 39.2N 9E");
svg.append("text").attr("x", 30).attr("y", 694)
  .attr("font-size", 9.8)
  .text("Températures 850hPa et 500hPa (°C) , précipitations (mm)");

svg.append("text").attr("x", 450).attr("y", 680).attr("font-size", 10)
  .text("Ensemble ECMWF/CEP du 21/08/2026 - 06Z");
svg.append("text").attr("x", 450).attr("y", 697)
  .attr("font-size", 11.5).attr("font-weight", "bold")
  .text("Copyright 2026 Meteociel.fr - ECMWF");
</script>
</body>
</html>
